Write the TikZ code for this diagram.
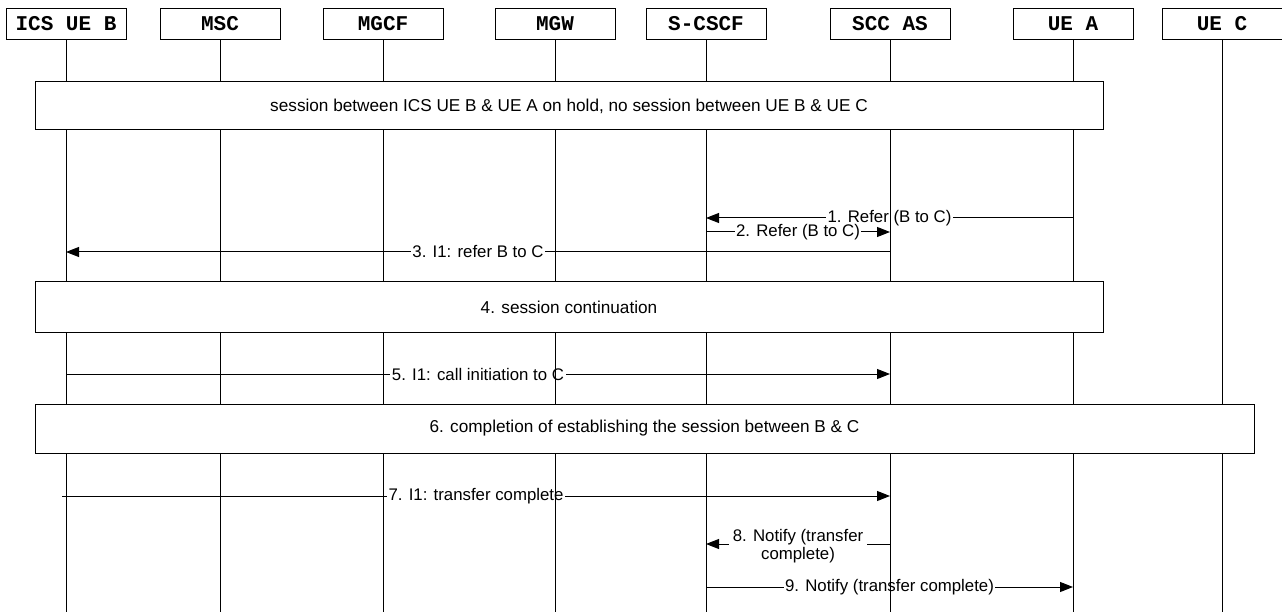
\documentclass[tikz,border=0pt]{standalone}
\usepackage{fontspec}
\setmainfont{Liberation Sans}
\newfontfamily\hdrfont{Liberation Mono}
\usetikzlibrary{arrows.meta}
\begin{document}
\begin{tikzpicture}[x=1pt,y=-1pt,
  entity/.style={draw, line width=0.9pt, fill=white, minimum width=120pt, minimum height=31pt, inner sep=0pt,
    font=\hdrfont\bfseries\fontsize{21}{21}\selectfont},
  life/.style={line width=0.9pt},
  msg/.style={line width=1pt, -{Triangle[length=13pt,width=10pt]}},
  lbl/.style={fill=white, inner sep=1.5pt, font=\fontsize{16.8}{18}\selectfont},
  stage/.style={draw, fill=white, line width=1pt, inner sep=0pt, font=\fontsize{17.2}{18}\selectfont}]
\useasboundingbox (0,0) rectangle (1282,612);
% entities
\node[entity] (ueb) at (66,24) {ICS UE B};
\node[entity] (msc) at (220,24) {MSC};
\node[entity] (mgcf) at (383,24) {MGCF};
\node[entity] (mgw) at (555,24) {MGW};
\node[entity] (scscf) at (706,24) {S-CSCF};
\node[entity] (sccas) at (890,24) {SCC AS};
\node[entity] (uea) at (1073,24) {UE A};
\node[entity] (uec) at (1222,24) {UE C};
% rows
\coordinate (r1) at (0,218);
\coordinate (r2) at (0,232);
\coordinate (r3) at (0,252);
\coordinate (r5) at (0,374);
\coordinate (s7) at (62,496);
\coordinate (r8) at (0,544);
\coordinate (r9) at (0,587);
\coordinate (bot) at (0,612);
% messages
\draw[msg] (uea |- r1) -- node[lbl] {1. Refer (B to C)} (scscf |- r1);
\draw[msg] (scscf |- r2) -- node[lbl] {2. Refer (B to C)} (sccas |- r2);
\draw[msg] (sccas |- r3) -- node[lbl] {3. I1: refer B to C} (ueb |- r3);
\draw[msg] (ueb |- r5) -- node[lbl] {5. I1: call initiation to C} (sccas |- r5);
\draw[msg] (s7) -- node[lbl] {7. I1: transfer complete} (sccas |- s7);
\draw[msg] (sccas |- r8) -- node[lbl, align=center, yshift=-2pt, inner sep=4pt] {8. Notify (transfer\\complete)} (scscf |- r8);
\draw[msg] (scscf |- r9) -- node[lbl] {9. Notify (transfer complete)} (uea |- r9);
% lifelines
\foreach \e in {ueb,msc,mgcf,mgw,scscf,sccas,uea,uec}
  \draw[life] (\e.south) -- (\e.south |- bot);
% stages
\node[stage, minimum width=1068pt, minimum height=48pt] (st0) at (569,106)
  {session between ICS UE B \& UE A on hold, no session between UE B \& UE C};
\node[stage, minimum width=1068pt, minimum height=50pt] (st4) at (569,307)
  {4. session continuation};
\node[stage, minimum width=1219pt, minimum height=49pt] (st6) at (644.5,428.5)
  {6. completion of establishing the session between B \& C};
\end{tikzpicture}
\end{document}
